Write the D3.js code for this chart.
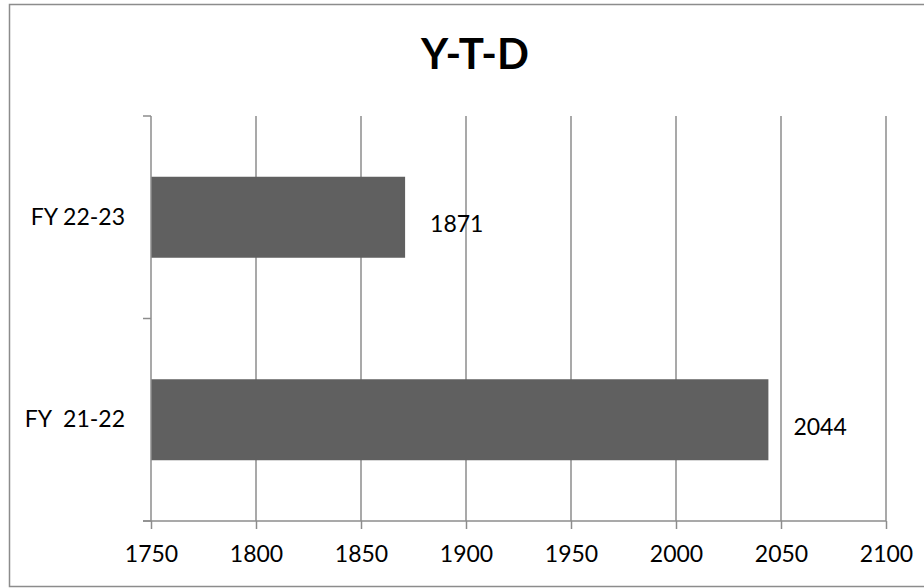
<!DOCTYPE html>
<html>
<head>
<meta charset="utf-8">
<script src="https://cdn.jsdelivr.net/npm/d3@7"></script>
<style>
  html, body { margin: 0; padding: 0; background: #fff; }
  svg { display: block; }
  text { font-family: Lato, "Open Sans", sans-serif; fill: #000; }
</style>
</head>
<body>
<svg id="chart" width="924" height="588"></svg>
<script>
const title = "Y-T-D";
const categories = ["FY 22-23", "FY  21-22"];
const values = [1871, 2044];
const xTicks = [1750, 1800, 1850, 1900, 1950, 2000, 2050, 2100];
const xDomain = [1750, 2100];

(function () {
const svg = d3.select("#chart");
const mLeft = 151, mRight = 886, mTop = 116, mBottom = 521;
const gridColor = "#8c8c8c";
const fs = "23px";

// outer border
svg.append("rect")
  .attr("x", 9.5).attr("y", 4.5)
  .attr("width", 940).attr("height", 582)
  .attr("fill", "#fff").attr("stroke", gridColor).attr("stroke-width", 1.5);

// title
svg.append("text")
  .attr("x", 475).attr("y", 69)
  .attr("text-anchor", "middle")
  .style("font-size", "42px").style("font-weight", "bold")
  .text(title);

const x = d3.scaleLinear().domain(xDomain).range([mLeft, mRight]);
const yb = d3.scaleBand().domain(categories).range([mTop, mBottom]);
const barH = yb.bandwidth() / 2.5;
const barY = c => yb(c) + (yb.bandwidth() - barH) / 2;

// gridlines
svg.append("g").selectAll("line").data(xTicks.slice(1)).join("line")
  .attr("x1", d => x(d)).attr("x2", d => x(d))
  .attr("y1", mTop).attr("y2", mBottom)
  .attr("stroke", gridColor).attr("stroke-width", 1.5);

// bars
svg.append("g").selectAll("rect").data(values).join("rect")
  .attr("x", x(xDomain[0]))
  .attr("y", (d, i) => barY(categories[i]))
  .attr("width", d => x(d) - x(xDomain[0]))
  .attr("height", barH)
  .attr("fill", "#606060");

// data labels
svg.append("g").selectAll("text").data(values).join("text")
  .attr("x", d => x(d) + 25)
  .attr("y", (d, i) => barY(categories[i]) + barH / 2 + 7)
  .attr("dy", "0.35em")
  .style("font-size", fs)
  .text(d => d);

// x axis
const xAxis = d3.axisBottom(x).tickValues(xTicks).tickFormat(d3.format("d")).tickSize(8).tickPadding(17);
const gx = svg.append("g").attr("transform", `translate(0,${mBottom})`).call(xAxis);
gx.select(".domain").attr("stroke", gridColor).attr("stroke-width", 1.5).attr("d", `M${mLeft - 8},0H${mRight}`);
gx.selectAll(".tick line").attr("stroke", gridColor).attr("stroke-width", 1.5);
gx.selectAll(".tick text").style("font-size", fs).style("font-family", "Lato, 'Open Sans', sans-serif").attr("fill", "#000");

// y axis
const yAxis = d3.axisLeft(yb).tickSize(0).tickPadding(26);
const gy = svg.append("g").attr("transform", `translate(${mLeft},0)`).call(yAxis);
gy.select(".domain").attr("stroke", gridColor).attr("stroke-width", 1.5).attr("d", `M0,${mTop}V${mBottom}`);
gy.selectAll(".tick text").style("font-size", fs).style("font-family", "Lato, 'Open Sans', sans-serif").attr("fill", "#000")
  .style("white-space", "pre");
// category boundary ticks
const bounds = [mTop].concat(categories.map(c => yb(c) + yb.bandwidth()));
svg.append("g").selectAll("line").data(bounds).join("line")
  .attr("x1", mLeft - 8).attr("x2", mLeft)
  .attr("y1", d => d).attr("y2", d => d)
  .attr("stroke", gridColor).attr("stroke-width", 1.5);
})();
</script>
</body>
</html>
